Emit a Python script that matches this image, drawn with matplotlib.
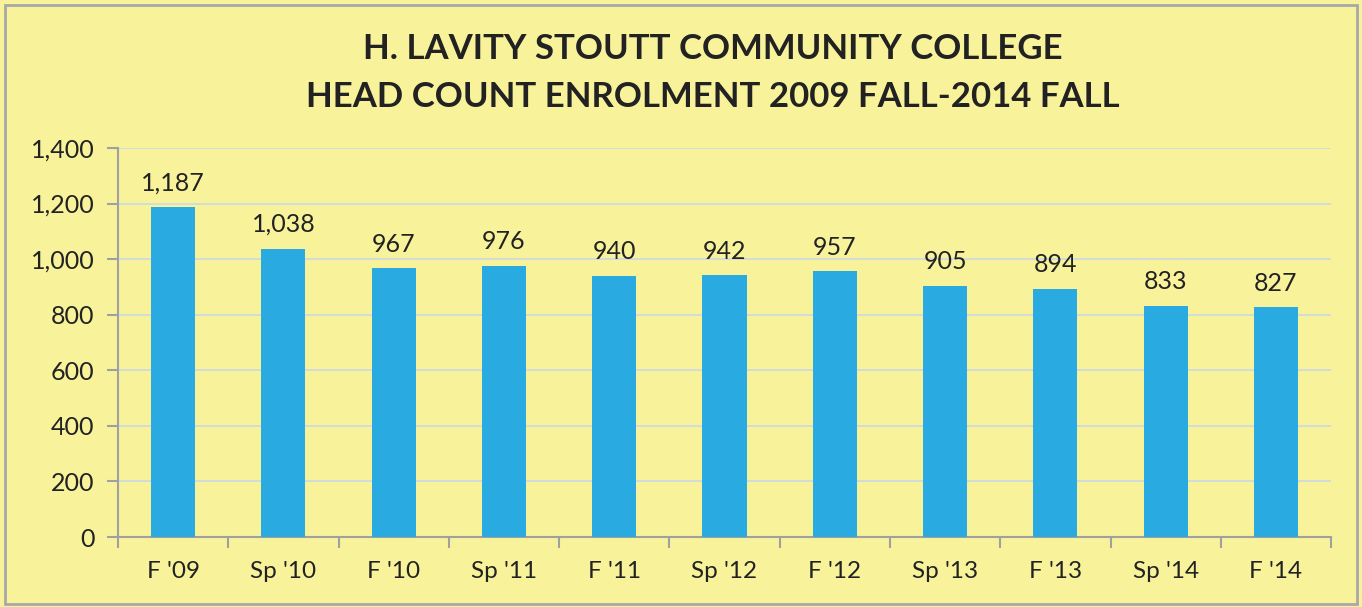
import matplotlib
matplotlib.use('Agg')
import matplotlib.pyplot as plt
from matplotlib.patches import Rectangle
from matplotlib.ticker import FuncFormatter

# Data
terms = ["F '09", "Sp '10", "F '10", "Sp '11", "F '11", "Sp '12",
         "F '12", "Sp '13", "F '13", "Sp '14", "F '14"]
headcount = [1187, 1038, 967, 976, 940, 942, 957, 905, 894, 833, 827]

bg = '#F8F39B'
plt.rcParams['font.family'] = ['Lato', 'DejaVu Sans']

fig = plt.figure(figsize=(13.62, 6.07), dpi=100, facecolor=bg)
fig.patches.append(Rectangle((0.004, 0.005), 0.992, 0.987, transform=fig.transFigure,
                             fill=False, edgecolor='#A8A8A8', linewidth=2))
ax = fig.add_axes([0.0866, 0.1153, 0.8907, 0.6409])
ax.set_facecolor(bg)

x = range(len(terms))
bars = ax.bar(x, headcount, width=0.4, color='#29ABE2', zorder=3)
for xi, v in zip(x, headcount):
    ax.text(xi, v + 45, '{:,}'.format(v), ha='center', va='bottom',
            fontsize=18, color='#222222')

ax.set_xlim(-0.5, len(terms) - 0.5)
ax.set_ylim(0, 1400)
ax.set_yticks(range(0, 1401, 200))
ax.yaxis.set_major_formatter(FuncFormatter(lambda v, p: '{:,}'.format(int(v))))
ax.set_xticks(list(x))
ax.set_xticklabels(terms)
ax.set_xticks([i - 0.5 for i in range(len(terms) + 1)], minor=True)
ax.tick_params(axis='x', which='major', length=0, pad=17, labelsize=17.5,
               labelcolor='#222222')
ax.tick_params(axis='x', which='minor', length=8, color='#A0A0A0', width=1.5)
ax.tick_params(axis='y', length=8, color='#A0A0A0', width=1.5, labelsize=18,
               labelcolor='#222222', pad=9)
ax.grid(axis='y', color='#C9D9E6', linewidth=1.2, zorder=0)
for s in ['top', 'right']:
    ax.spines[s].set_visible(False)
for s in ['left', 'bottom']:
    ax.spines[s].set_color('#A0A0A0')
    ax.spines[s].set_linewidth(1.5)

# Title (centred a little right of the figure middle, as in the original)
fig.text(0.5235, 0.920, 'H. LAVITY STOUTT COMMUNITY COLLEGE', ha='center',
         va='center', fontsize=25, fontweight='bold', color='#222222')
fig.text(0.5235, 0.840, 'HEAD COUNT ENROLMENT 2009 FALL-2014 FALL', ha='center',
         va='center', fontsize=25, fontweight='bold', color='#222222')

fig.savefig('out.png', dpi=100, facecolor=bg)
